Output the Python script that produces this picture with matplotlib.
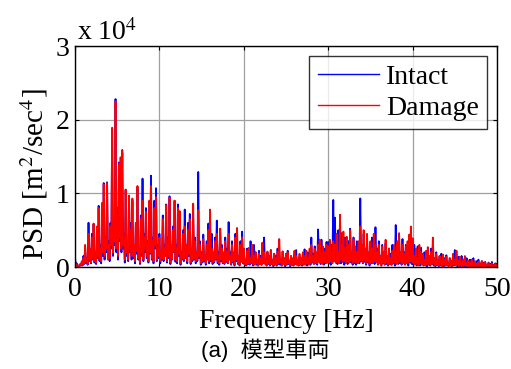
import matplotlib
matplotlib.use("Agg")
import matplotlib.pyplot as plt
import numpy as np

# PSD, in units of 1e4 m^2/sec^4, 0.1 Hz steps from 0 to 50 Hz
# one row = 1 Hz
freq_step = 0.1
psd_intact = [
    0.12, 0.03, 0.05, 0.01, 0.02, 0.01, 0.03, 0.02, 0.06, 0.02,
    0.15, 0.04, 0.25, 0.05, 0.12, 0.03, 0.60, 0.08, 0.20, 0.05,
    0.45, 0.10, 0.58, 0.06, 0.15, 0.04, 0.50, 0.12, 0.83, 0.08,
    0.30, 0.05, 0.70, 0.15, 1.14, 0.10, 0.40, 0.20, 1.15, 0.12,
    0.35, 0.08, 0.60, 0.25, 1.85, 0.15, 0.50, 0.30, 2.28, 0.20,
    0.80, 0.10, 1.42, 0.35, 1.35, 0.20, 1.55, 0.25, 0.45, 0.06,
    1.05, 0.15, 0.30, 0.08, 0.95, 0.20, 0.60, 0.10, 0.90, 0.12,
    0.25, 0.05, 0.55, 0.18, 1.08, 0.10, 0.20, 0.04, 0.70, 0.15,
    1.20, 0.08, 0.45, 0.20, 0.80, 0.12, 0.35, 0.06, 0.75, 0.18,
    1.24, 0.10, 0.40, 0.05, 0.90, 0.25, 1.07, 0.08, 0.30, 0.12,
    0.45, 0.05, 0.15, 0.10, 0.70, 0.08, 0.30, 0.15, 0.85, 0.06,
    0.40, 0.12, 0.96, 0.04, 0.25, 0.10, 0.55, 0.20, 0.90, 0.07,
    0.30, 0.05, 0.85, 0.15, 0.45, 0.03, 0.20, 0.10, 0.50, 0.08,
    0.78, 0.12, 0.25, 0.05, 0.60, 0.15, 0.72, 0.04, 0.20, 0.08,
    0.65, 0.10, 0.40, 0.05, 0.15, 0.08, 1.29, 0.12, 0.35, 0.03,
    0.20, 0.06, 0.44, 0.08, 0.10, 0.03, 0.35, 0.10, 0.59, 0.05,
    0.30, 0.08, 0.45, 0.04, 0.15, 0.06, 0.40, 0.10, 0.63, 0.05,
    0.20, 0.03, 0.52, 0.08, 0.30, 0.05, 0.15, 0.04, 0.40, 0.07,
    0.25, 0.05, 0.61, 0.10, 0.20, 0.03, 0.35, 0.06, 0.15, 0.02,
    0.45, 0.08, 0.30, 0.04, 0.10, 0.02, 0.35, 0.07, 0.48, 0.05,
    0.20, 0.03, 0.08, 0.02, 0.25, 0.04, 0.15, 0.03, 0.35, 0.05,
    0.10, 0.02, 0.30, 0.06, 0.20, 0.03, 0.08, 0.02, 0.22, 0.04,
    0.15, 0.03, 0.28, 0.05, 0.40, 0.06, 0.10, 0.02, 0.20, 0.04,
    0.12, 0.02, 0.23, 0.04, 0.08, 0.01, 0.18, 0.03, 0.15, 0.02,
    0.25, 0.04, 0.20, 0.03, 0.10, 0.02, 0.21, 0.05, 0.08, 0.01,
    0.18, 0.03, 0.22, 0.04, 0.06, 0.01, 0.15, 0.03, 0.10, 0.02,
    0.18, 0.04, 0.23, 0.03, 0.08, 0.02, 0.14, 0.03, 0.10, 0.02,
    0.18, 0.03, 0.24, 0.05, 0.10, 0.02, 0.20, 0.04, 0.15, 0.03,
    0.40, 0.06, 0.18, 0.04, 0.28, 0.05, 0.15, 0.03, 0.51, 0.08,
    0.20, 0.04, 0.37, 0.06, 0.12, 0.03, 0.25, 0.05, 0.34, 0.06,
    0.34, 0.05, 0.15, 0.03, 0.30, 0.08, 0.91, 0.10, 0.67, 0.06,
    0.25, 0.04, 0.50, 0.08, 0.30, 0.05, 0.46, 0.07, 0.20, 0.03,
    0.40, 0.06, 0.25, 0.04, 0.35, 0.08, 0.52, 0.06, 0.20, 0.03,
    0.40, 0.05, 0.15, 0.03, 0.35, 0.06, 0.25, 0.05, 0.93, 0.08,
    0.30, 0.05, 0.45, 0.07, 0.20, 0.03, 0.35, 0.06, 0.15, 0.02,
    0.30, 0.05, 0.40, 0.06, 0.20, 0.04, 0.54, 0.07, 0.25, 0.03,
    0.35, 0.05, 0.15, 0.02, 0.30, 0.05, 0.20, 0.03, 0.32, 0.04,
    0.12, 0.02, 0.25, 0.04, 0.18, 0.03, 0.30, 0.05, 0.15, 0.02,
    0.57, 0.06, 0.25, 0.04, 0.35, 0.05, 0.15, 0.03, 0.38, 0.05,
    0.20, 0.03, 0.30, 0.05, 0.12, 0.02, 0.35, 0.06, 0.25, 0.04,
    0.20, 0.03, 0.30, 0.04, 0.15, 0.02, 0.28, 0.04, 0.10, 0.02,
    0.26, 0.04, 0.15, 0.02, 0.20, 0.03, 0.08, 0.01, 0.22, 0.03,
    0.15, 0.02, 0.25, 0.04, 0.18, 0.02, 0.10, 0.01, 0.20, 0.03,
    0.08, 0.01, 0.15, 0.02, 0.18, 0.03, 0.06, 0.01, 0.12, 0.02,
    0.16, 0.02, 0.05, 0.01, 0.12, 0.02, 0.08, 0.01, 0.15, 0.02,
    0.23, 0.03, 0.08, 0.01, 0.14, 0.02, 0.06, 0.01, 0.15, 0.02,
    0.10, 0.01, 0.05, 0.01, 0.12, 0.02, 0.04, 0.01, 0.10, 0.01,
    0.08, 0.01, 0.12, 0.02, 0.05, 0.01, 0.08, 0.01, 0.10, 0.01,
    0.04, 0.01, 0.08, 0.01, 0.06, 0.01, 0.07, 0.01, 0.03, 0.01,
    0.06, 0.01, 0.04, 0.01, 0.07, 0.01, 0.03, 0.01, 0.05, 0.01,
    0.04,
]
psd_damage = [
    0.08, 0.02, 0.03, 0.01, 0.02, 0.01, 0.04, 0.02, 0.08, 0.03,
    0.12, 0.05, 0.30, 0.08, 0.10, 0.04, 0.45, 0.10, 0.25, 0.06,
    0.40, 0.12, 0.59, 0.08, 0.20, 0.06, 0.55, 0.15, 0.80, 0.10,
    0.25, 0.08, 0.87, 0.20, 1.12, 0.15, 0.35, 0.25, 1.14, 0.10,
    0.30, 0.12, 0.55, 0.30, 1.89, 0.20, 0.40, 0.35, 2.25, 0.25,
    0.70, 0.15, 1.40, 0.40, 1.49, 0.25, 1.59, 0.30, 0.40, 0.10,
    1.05, 0.20, 0.35, 0.10, 0.97, 0.25, 0.50, 0.15, 0.93, 0.15,
    0.30, 0.08, 0.60, 0.22, 1.10, 0.12, 0.25, 0.06, 0.65, 0.20,
    0.90, 0.10, 0.40, 0.25, 0.75, 0.15, 0.30, 0.08, 0.90, 0.20,
    1.10, 0.12, 0.35, 0.08, 0.80, 0.30, 0.95, 0.10, 0.25, 0.15,
    0.40, 0.08, 0.20, 0.12, 0.65, 0.10, 0.25, 0.18, 0.84, 0.08,
    0.35, 0.15, 0.94, 0.06, 0.30, 0.12, 0.50, 0.22, 0.90, 0.10,
    0.25, 0.08, 0.80, 0.18, 0.76, 0.05, 0.15, 0.12, 0.45, 0.10,
    0.55, 0.15, 0.30, 0.08, 0.50, 0.18, 0.65, 0.06, 0.25, 0.10,
    0.86, 0.12, 0.35, 0.08, 0.20, 0.10, 0.77, 0.15, 0.30, 0.05,
    0.15, 0.08, 0.38, 0.10, 0.12, 0.05, 0.30, 0.12, 0.50, 0.08,
    0.78, 0.10, 0.25, 0.06, 0.20, 0.08, 0.35, 0.12, 0.45, 0.07,
    0.15, 0.05, 0.52, 0.10, 0.25, 0.06, 0.20, 0.05, 0.35, 0.08,
    0.20, 0.06, 0.45, 0.12, 0.15, 0.04, 0.30, 0.08, 0.20, 0.04,
    0.40, 0.10, 0.53, 0.06, 0.15, 0.03, 0.30, 0.08, 0.40, 0.06,
    0.25, 0.04, 0.10, 0.03, 0.22, 0.05, 0.26, 0.04, 0.12, 0.06,
    0.30, 0.04, 0.15, 0.03, 0.20, 0.05, 0.10, 0.02, 0.18, 0.04,
    0.12, 0.03, 0.33, 0.06, 0.20, 0.04, 0.08, 0.02, 0.21, 0.05,
    0.15, 0.03, 0.23, 0.05, 0.10, 0.02, 0.18, 0.04, 0.12, 0.03,
    0.20, 0.05, 0.38, 0.06, 0.10, 0.02, 0.21, 0.04, 0.12, 0.03,
    0.18, 0.04, 0.20, 0.05, 0.08, 0.02, 0.15, 0.03, 0.12, 0.03,
    0.22, 0.05, 0.15, 0.03, 0.10, 0.02, 0.18, 0.04, 0.12, 0.03,
    0.20, 0.04, 0.15, 0.03, 0.22, 0.05, 0.12, 0.03, 0.25, 0.05,
    0.30, 0.07, 0.15, 0.04, 0.25, 0.06, 0.20, 0.05, 0.30, 0.07,
    0.37, 0.06, 0.18, 0.04, 0.28, 0.07, 0.20, 0.05, 0.30, 0.06,
    0.28, 0.06, 0.37, 0.08, 0.20, 0.05, 0.35, 0.08, 0.30, 0.06,
    0.45, 0.08, 0.20, 0.05, 0.71, 0.10, 0.30, 0.07, 0.48, 0.08,
    0.25, 0.05, 0.41, 0.08, 0.30, 0.06, 0.50, 0.09, 0.20, 0.05,
    0.38, 0.07, 0.28, 0.06, 0.20, 0.05, 0.35, 0.08, 0.55, 0.09,
    0.30, 0.06, 0.50, 0.09, 0.25, 0.05, 0.45, 0.08, 0.20, 0.04,
    0.35, 0.06, 0.25, 0.05, 0.45, 0.08, 0.30, 0.06, 0.20, 0.04,
    0.30, 0.05, 0.15, 0.03, 0.28, 0.06, 0.20, 0.04, 0.37, 0.06,
    0.15, 0.03, 0.25, 0.05, 0.12, 0.03, 0.22, 0.05, 0.30, 0.06,
    0.20, 0.04, 0.35, 0.06, 0.46, 0.08, 0.20, 0.04, 0.30, 0.05,
    0.18, 0.04, 0.28, 0.05, 0.35, 0.06, 0.44, 0.08, 0.55, 0.07,
    0.39, 0.05, 0.15, 0.03, 0.25, 0.04, 0.12, 0.02, 0.30, 0.05,
    0.20, 0.03, 0.18, 0.03, 0.10, 0.02, 0.22, 0.04, 0.27, 0.04,
    0.15, 0.03, 0.20, 0.04, 0.40, 0.05, 0.12, 0.02, 0.18, 0.03,
    0.10, 0.02, 0.15, 0.03, 0.08, 0.01, 0.17, 0.03, 0.10, 0.02,
    0.14, 0.02, 0.06, 0.01, 0.12, 0.02, 0.08, 0.01, 0.18, 0.03,
    0.10, 0.02, 0.22, 0.03, 0.08, 0.01, 0.14, 0.02, 0.06, 0.01,
    0.10, 0.02, 0.15, 0.02, 0.05, 0.01, 0.09, 0.01, 0.06, 0.01,
    0.10, 0.01, 0.05, 0.01, 0.08, 0.01, 0.04, 0.01, 0.07, 0.01,
    0.05, 0.01, 0.08, 0.01, 0.04, 0.01, 0.06, 0.01, 0.03, 0.01,
    0.05, 0.01, 0.03, 0.01, 0.05, 0.01, 0.02, 0.01, 0.04, 0.01,
    0.03,
]
x_ticks = [0, 10, 20, 30, 40, 50]
y_ticks = [0, 1, 2, 3]

freq = np.arange(len(psd_intact)) * freq_step

plt.rcParams['font.family'] = ['Liberation Serif', 'DejaVu Serif']
plt.rcParams['mathtext.fontset'] = 'stix'

fig = plt.figure(figsize=(5.11, 3.69), dpi=100)
ax = fig.add_axes([0.1468, 0.2764, 0.8258, 0.5989])

ax.plot(freq, psd_intact, color='#0000ff', lw=1.3, label='Intact')
ax.plot(freq, psd_damage, color='#ff0000', lw=1.3, label='Damage')

ax.set_xlim(0, 50)
ax.set_ylim(0, 3)
ax.set_xticks(x_ticks)
ax.set_yticks(y_ticks)
ax.grid(True, color='#a0a0a0', lw=0.9)
ax.set_axisbelow(True)
ax.tick_params(direction='in', top=True, right=True, labelsize=20, length=3)
ax.tick_params(axis='x', pad=7)
ax.tick_params(axis='y', pad=4)
for s in ax.spines.values():
    s.set_linewidth(1.0)

ax.set_xlabel('Frequency [Hz]', fontsize=20, labelpad=5)
ax.set_ylabel('PSD [m$^2$/sec$^4$]', fontsize=21)
ax.yaxis.set_label_coords(-0.06, 0.42)
ax.text(0.005, 1.0, 'x 10$^4$', transform=ax.transAxes, fontsize=20, ha='left', va='bottom')

leg = ax.legend(loc='upper right', fontsize=20, frameon=True, fancybox=False,
                edgecolor='black', borderpad=0.3, labelspacing=0.2,
                handlelength=2.2, handletextpad=0.25, borderaxespad=0.36)
leg.get_frame().set_linewidth(1.0)
for line in leg.get_lines():
    line.set_linewidth(1.0)

fig.text(0.52, 0.051, '(a)  模型車両', fontsize=16, ha='center', va='center',
         family=['Liberation Sans', 'Noto Sans CJK JP'])

fig.savefig('out.png', dpi=100)
